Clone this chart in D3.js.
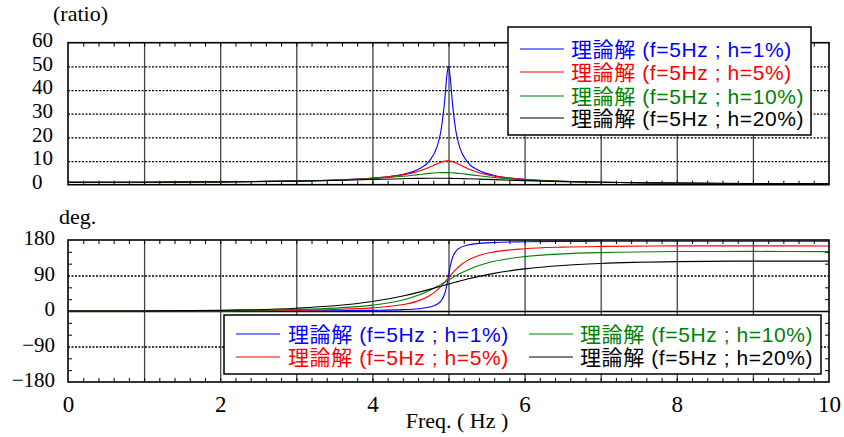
<!DOCTYPE html>
<html><head><meta charset="utf-8">
<script src="https://cdn.jsdelivr.net/npm/d3@7"></script>
<style>
html,body{margin:0;padding:0;background:#fff;}
svg{display:block;}
</style></head><body>
<svg id="c" width="844" height="437"></svg>
<script>
// ---------- data ----------
const freq = [0,1,2,3,3.5,4,4.4,4.6,4.75,4.85,4.9,4.95,4.98,5,5.02,5.05,5.1,5.15,5.25,5.4,5.6,6,6.5,7,8,9,10];

const ratioH1  = [1,1.042,1.190,1.563,1.961,2.775,4.42,6.46,10.07,16.08,22.64,35.6,46.6,50.0,46.3,35.1,22.1,15.56,9.56,5.96,3.92,2.27,1.449,1.042,0.641,0.446,0.333];
const ratioH5  = [1,1.042,1.190,1.559,1.947,2.720,4.145,5.609,7.379,8.845,9.506,9.951,10.058,10.05,9.979,9.760,9.162,8.401,6.852,5.070,3.620,2.208,1.436,1.041,0.646,0.452,0.339];
const ratioH10 = [1,1.042,1.189,1.547,1.909,2.571,3.549,4.242,4.766,5.023,5.096,5.123,5.115,5.099,5.076,5.026,4.908,4.753,4.373,3.752,3.023,2.052,1.401,1.039,0.659,0.469,0.356];
const ratioH20 = [1,1.041,1.184,1.505,1.785,2.180,2.536,2.672,2.727,2.733,2.726,2.713,2.701,2.693,2.683,2.666,2.634,2.597,2.509,2.353,2.127,1.704,1.305,1.031,0.704,0.524,0.413];

const phaseH1  = [0,0.01,0.09,0.39,0.77,1.63,3.45,5.78,9.94,17.06,25.2,43.7,67.0,88.85,110.6,133.7,152.0,160.1,167.2,171.4,173.7,175.5,176.4,176.7,177.0,177.0,176.9];
const phaseH5  = [0,0.05,0.44,1.92,3.81,7.95,16.28,25.66,38.83,53.11,62.40,73.0,79.73,84.29,88.83,95.49,105.78,114.71,128.32,140.85,149.85,157.90,161.92,163.73,165.05,165.20,164.88];
const phaseH10 = [0,0.10,0.87,3.78,7.38,14.87,27.98,39.72,52.08,62.08,67.48,73.06,76.44,78.69,80.93,84.26,89.67,94.83,104.16,115.42,126.01,137.89,144.78,148.10,150.66,151.07,150.60];
const phaseH20 = [0,0.19,1.69,7.06,13.12,23.89,37.95,47.14,54.81,60.13,62.83,65.52,67.13,68.20,69.26,70.85,73.46,76.02,80.93,87.70,95.46,106.87,115.52,120.49,125.08,126.43,126.40];

const seriesLabels = ["理論解 (f=5Hz ; h=1%)","理論解 (f=5Hz ; h=5%)","理論解 (f=5Hz ; h=10%)","理論解 (f=5Hz ; h=20%)"];
const seriesColors = ["#0000ff","#ff0000","#008000","#000000"];

const xTickLabels = [0,2,4,6,8,10];
const yTopTickLabels = [0,10,20,30,40,50,60];
const yBotTickLabels = [-180,-90,0,90,180];

// ---------- drawing ----------
const svg = d3.select("#c");
const serif = "'Times New Roman','Liberation Serif',Tinos,serif";
const legendFont = "'Liberation Sans',Arial,'Noto Sans CJK JP',sans-serif";

const x = d3.scaleLinear().domain([0,10]).range([68,829]);
const yT = d3.scaleLinear().domain([0,60]).range([184.7,42.7]);
const yB = d3.scaleLinear().domain([-180,180]).range([382,240]);

const ratioSeries = [ratioH1,ratioH5,ratioH10,ratioH20];
const phaseSeries = [phaseH1,phaseH5,phaseH10,phaseH20];

function grid(y, hTicks, solidZero) {
  const x0 = x.range()[0], x1 = x.range()[1];
  const yTop = y.range()[1], yBot = y.range()[0];
  const gv = svg.append("g").attr("transform", `translate(0,${yTop})`)
    .call(d3.axisBottom(x).tickValues(d3.range(1,10)).tickSize(yBot - yTop).tickFormat(""));
  gv.select(".domain").remove();
  gv.selectAll("line").attr("stroke","#444").attr("stroke-width",1.3);
  const gh = svg.append("g").attr("transform", `translate(${x0},0)`)
    .call(d3.axisLeft(y).tickValues(hTicks).tickSize(-(x1 - x0)).tickFormat(""));
  gh.select(".domain").remove();
  gh.selectAll("line").attr("stroke","#000").attr("stroke-width",1.3)
    .attr("stroke-dasharray", d => (solidZero && d === 0) ? null : "2,1.5");
  const minor = d3.range(1,50).map(i => i*0.2);
  const gt = svg.append("g").attr("transform", `translate(0,${yTop})`)
    .call(d3.axisTop(x).tickValues(minor).tickSize(-4).tickFormat(""));
  gt.select(".domain").remove();
  gt.selectAll("line").attr("stroke","#000").attr("stroke-width",1);
  const gb = svg.append("g").attr("transform", `translate(0,${yBot})`)
    .call(d3.axisBottom(x).tickValues(minor).tickSize(-4).tickFormat(""));
  gb.select(".domain").remove();
  gb.selectAll("line").attr("stroke","#000").attr("stroke-width",1);
}

function frame(y) {
  const x0 = x.range()[0], x1 = x.range()[1];
  const yTop = y.range()[1], yBot = y.range()[0];
  svg.append("rect").attr("x",x0).attr("y",yTop).attr("width",x1-x0).attr("height",yBot-yTop)
    .attr("fill","none").attr("stroke","#000").attr("stroke-width",1.6);
}

function curves(y, series) {
  const line = d3.line().x(d => x(d[0])).y(d => y(d[1])).curve(d3.curveMonotoneX);
  series.forEach((vals, i) => {
    svg.append("path").datum(freq.map((f,j) => [f, vals[j]]))
      .attr("d", line).attr("fill","none").attr("stroke", seriesColors[i]).attr("stroke-width",1.1);
  });
}

function legendEntry(g, i, lx, ly, tx) {
  g.append("line").attr("x1",lx).attr("x2",lx+44).attr("y1",ly).attr("y2",ly)
    .attr("stroke",seriesColors[i]).attr("stroke-width",1.1);
  g.append("text").attr("x",tx).attr("y",ly).attr("dy","0.36em")
    .attr("font-family",legendFont).attr("font-size",21).attr("letter-spacing",0.6)
    .attr("fill",seriesColors[i]).text(seriesLabels[i]);
}

// ----- top panel -----
grid(yT, [10,20,30,40,50], false);
curves(yT, ratioSeries);
frame(yT);

const ayT = svg.append("g").attr("transform","translate(32,0)")
  .call(d3.axisLeft(yT).tickValues(yTopTickLabels).tickSize(0).tickFormat(d3.format("d")));
ayT.select(".domain").remove();
ayT.selectAll("text").attr("x",0).attr("text-anchor","start").attr("dy","0.32em")
  .attr("transform","translate(0,-3)")
  .attr("font-family",serif).attr("font-size",21).attr("fill","#000");

svg.append("text").attr("x",53).attr("y",21).attr("font-family",serif).attr("font-size",22).text("(ratio)");

const lgT = svg.append("g");
lgT.append("rect").attr("x",508).attr("y",27).attr("width",303).attr("height",108)
  .attr("fill","#fff").attr("stroke","#000").attr("stroke-width",1.5);
[49,72,96,118].forEach((ly,i) => legendEntry(lgT, i, 520, ly, 571));

// ----- bottom panel -----
grid(yB, [-90,0,90], true);
{
  const minorY = [-150,-120,-60,-30,30,60,120,150];
  const gl = svg.append("g").attr("transform",`translate(${x.range()[0]},0)`)
    .call(d3.axisLeft(yB).tickValues(minorY).tickSize(-4).tickFormat(""));
  gl.select(".domain").remove();
  gl.selectAll("line").attr("stroke","#000");
  const gr = svg.append("g").attr("transform",`translate(${x.range()[1]},0)`)
    .call(d3.axisRight(yB).tickValues(minorY).tickSize(-4).tickFormat(""));
  gr.select(".domain").remove();
  gr.selectAll("line").attr("stroke","#000");
}
curves(yB, phaseSeries);
frame(yB);

const ayB = svg.append("g").attr("transform","translate(55,0)")
  .call(d3.axisLeft(yB).tickValues(yBotTickLabels).tickSize(0).tickPadding(0).tickFormat(d3.format("d")));
ayB.select(".domain").remove();
ayB.selectAll("text").attr("x",0).attr("text-anchor","end").attr("dy","0.32em")
  .attr("transform","translate(0,-2)")
  .attr("font-family",serif).attr("font-size",21).attr("fill","#000");

svg.append("text").attr("x",59).attr("y",224).attr("font-family",serif).attr("font-size",22).text("deg.");

const lgB = svg.append("g");
lgB.append("rect").attr("x",224).attr("y",315).attr("width",597).attr("height",59)
  .attr("fill","#fff").attr("stroke","#000").attr("stroke-width",1.5);
legendEntry(lgB, 0, 236, 334, 288);
legendEntry(lgB, 1, 236, 357, 288);
legendEntry(lgB, 2, 529, 334, 580);
legendEntry(lgB, 3, 529, 357, 580);

const ax = svg.append("g").attr("transform",`translate(0,${yB.range()[0]})`)
  .call(d3.axisBottom(x).tickValues(xTickLabels).tickSize(0).tickPadding(0).tickFormat(d3.format("d")));
ax.select(".domain").remove();
ax.selectAll("text").attr("y",23).attr("dy","0.32em")
  .attr("font-family",serif).attr("font-size",23).attr("fill","#000");

svg.append("text").attr("x",457).attr("y",428).attr("text-anchor","middle")
  .attr("font-family",serif).attr("font-size",22).text("Freq. ( Hz )");
</script>
</body></html>
